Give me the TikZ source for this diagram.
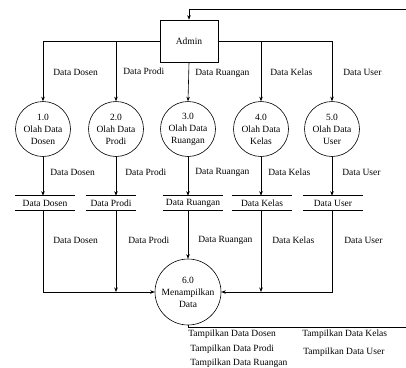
\documentclass[tikz,border=0pt]{standalone}
\usepackage{fontspec}
\setmainfont{Liberation Serif}
\usetikzlibrary{
    arrows.meta,
    positioning,
    calc
}
\tikzset{
    entity/.style = {
        rectangle,
        draw,
        minimum width=58pt,
        minimum height=42pt,
        align=center
    },
    process/.style = {
        circle,
        draw,
        inner sep=0pt,
        minimum size=55pt,
        align=center
    },
    datastore/.style = {
        rectangle,
        inner sep=0pt,
        minimum width=60pt,
        minimum height=14pt,
        append after command={
            (\tikzlastnode.north west) edge[-] (\tikzlastnode.north east)
            (\tikzlastnode.south west) edge[-] (\tikzlastnode.south east)
        }
    },
    flowlabel/.style = {
        anchor=west,
        inner sep=0pt
    },
    arrow/.style = {
        -{Stealth[length=4.5pt,width=3.5pt]},
        line width=0.6pt
    }
}

\begin{document}
\begin{tikzpicture}[x=1pt, y=-1pt, line width=0.6pt,
    font=\fontsize{9.5}{12}\selectfont]
\useasboundingbox (0,0) rectangle (406,367);

\node (admin) [entity] at (189,41) {Admin};

\node (p1) [process] at (43,129) {1.0\\Olah Data\\Dosen};
\node (p2) [process] at (116,129) {2.0\\Olah Data\\Prodi};
\node (p3) [process] at (188,129) {3.0\\Olah Data\\Ruangan};
\node (p4) [process] at (261,129) {4.0\\Olah Data\\Kelas};
\node (p5) [process] at (332,129) {5.0\\Olah Data\\User};

\node (s1) [datastore] at (45,203) {Data Dosen};
\node (s2) [datastore, minimum width=50pt] at (111,203) {Data Prodi};
\node (s3) [datastore] at (193,203) {Data Ruangan};
\node (s4) [datastore] at (262,203) {Data Kelas};
\node (s5) [datastore] at (333,203) {Data User};

\node (p6) [process, minimum size=66pt] at (188,292) {6.0\\Menampilkan\\Data};

\coordinate (fbin) at (406,9);
\coordinate (fbout) at (406,327);

% admin ke proses
\draw [arrow] (fbin) -| (admin.north);
\draw [arrow] (admin.west) -| (p1.north);
\draw [arrow] (admin.west) -| (p2.north);
\draw [arrow] (admin.south) -- (p3.north);
\draw [arrow] (admin.east) -| (p4.north);
\draw [arrow] (admin.east) -| (p5.north);

\node (la1) [flowlabel] at (53,72) {Data Dosen};
\node (la2) [flowlabel] at (123,71) {Data Prodi};
\node (la3) [flowlabel] at (195,73) {Data Ruangan};
\node (la4) [flowlabel] at (270,72) {Data Kelas};
\node (la5) [flowlabel] at (343,72) {Data User};

% proses ke data store
\draw [arrow] (p1.south) -- (p1.south |- s1.north);
\draw [arrow] (p2.south) -- (p2.south |- s2.north);
\draw [arrow] (p3.south) -- (p3.south |- s3.north);
\draw [arrow] (p4.south) -- (p4.south |- s4.north);
\draw [arrow] (p5.south) -- (p5.south |- s5.north);

\node (lb1) [flowlabel] at (50,172) {Data Dosen};
\node (lb2) [flowlabel] at (125,172) {Data Prodi};
\node (lb3) [flowlabel] at (195,172) {Data Ruangan};
\node (lb4) [flowlabel] at (268,172) {Data Kelas};
\node (lb5) [flowlabel] at (342,172) {Data User};

% data store ke menampilkan data
\draw [arrow] (p1.south |- s1.south) |- (p6.west);
\draw [arrow] (p2.south |- s2.south) -- (p2.south |- p6.west);
\draw [arrow] (p3.south |- s3.south) -- (p6.north);
\draw [arrow] (p4.south |- s4.south) -- (p4.south |- p6.east);
\draw [arrow] (p5.south |- s5.south) |- (p6.east);

\node (lc1) [flowlabel] at (53,240) {Data Dosen};
\node (lc2) [flowlabel] at (128,240) {Data Prodi};
\node (lc3) [flowlabel] at (198,240) {Data Ruangan};
\node (lc4) [flowlabel] at (272,240) {Data Kelas};
\node (lc5) [flowlabel] at (344,240) {Data User};

% keluaran
\draw (p6.south) |- (fbout);

\node (t1) [flowlabel] at (188,334) {Tampilkan Data Dosen};
\node (t2) [flowlabel] at (190,349) {Tampilkan Data Prodi};
\node (t3) [flowlabel] at (190,363) {Tampilkan Data Ruangan};
\node (t4) [flowlabel] at (302,334) {Tampilkan Data Kelas};
\node (t5) [flowlabel] at (303,352) {Tampilkan Data User};
\end{tikzpicture}
\end{document}
